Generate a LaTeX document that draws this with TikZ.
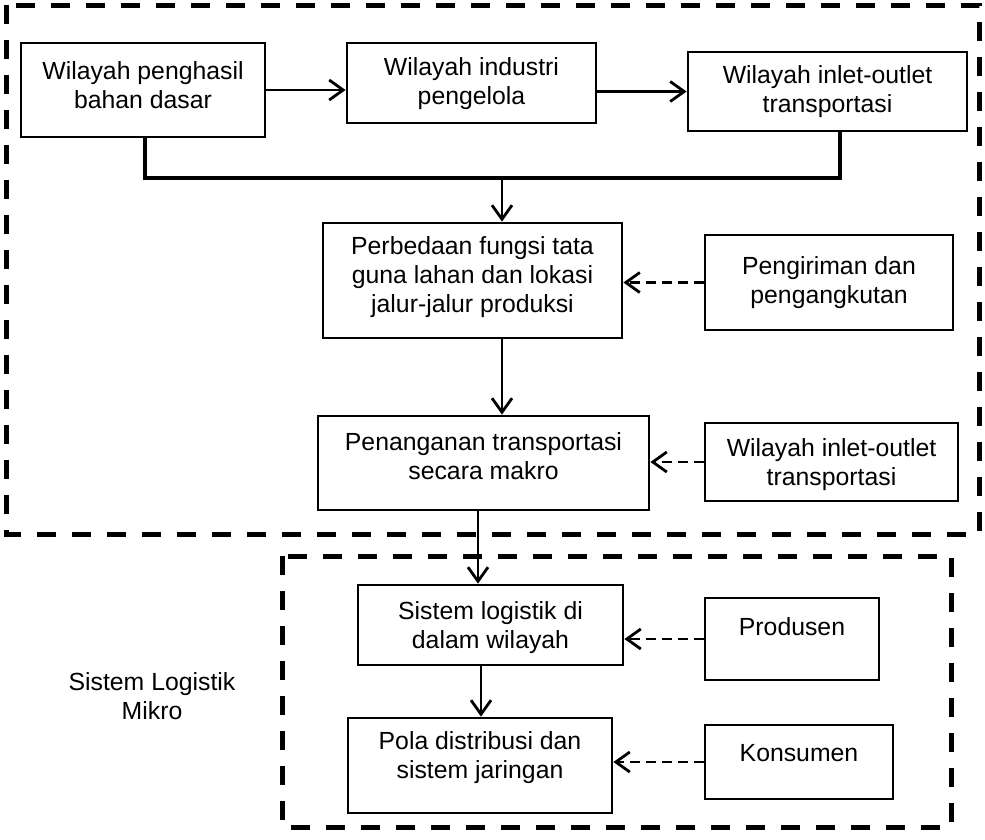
\documentclass[tikz,border=0pt]{standalone}
\usepackage{fontspec}
\setmainfont{Liberation Sans}
\usetikzlibrary{arrows.meta}
\begin{document}
\begin{tikzpicture}[x=1pt,y=-1pt,
  box/.style={draw, line width=2.8pt, inner sep=0pt},
  txt/.style={align=center, inner sep=0pt, font=\fontsize{24.8}{29}\selectfont},
  arr/.style={line width=2.8pt, -{Straight Barb[length=14pt,width=20pt,line width=2.8pt]}},
  darr/.style={line width=2.8pt, dash pattern=on 10pt off 6pt, -{Straight Barb[length=14pt,width=20pt,line width=2.8pt]}},
  bus/.style={line width=4.5pt},
  frame/.style={line width=5pt, dash pattern=on 19pt off 16pt}]
\useasboundingbox (0,0) rectangle (985,839);
% frames
\draw[frame] (6,5) rectangle (979,534);
\draw[frame] (282,556) rectangle (951,827);
% boxes
\node[box, minimum width=244pt, minimum height=94pt] (b1) at (143,90) {};
\node[box, minimum width=249pt, minimum height=80pt] (b2) at (471.5,83) {};
\node[box, minimum width=279pt, minimum height=79pt] (b3) at (827.5,91.5) {};
\node[box, minimum width=299pt, minimum height=115pt] (b4) at (472.5,280.5) {};
\node[box, minimum width=248pt, minimum height=95pt] (b5) at (829,282.5) {};
\node[box, minimum width=331pt, minimum height=94pt] (b6) at (483.5,463) {};
\node[box, minimum width=253pt, minimum height=78pt] (b7) at (831.5,462) {};
\node[box, minimum width=265pt, minimum height=80pt] (b8) at (490.5,625) {};
\node[box, minimum width=174pt, minimum height=82pt] (b9) at (792,639) {};
\node[box, minimum width=264pt, minimum height=95pt] (b10) at (480,765.5) {};
\node[box, minimum width=188pt, minimum height=74pt] (b11) at (799,762) {};
% texts
\node[txt] (t1) at (143,85) {Wilayah penghasil\\bahan dasar};
\node[txt] (t2) at (471.5,84) {Wilayah industri\\pengelola};
\node[txt] (t3) at (827.5,92) {Wilayah inlet-outlet\\transportasi};
\node[txt] (t4) at (472.5,277) {Perbedaan fungsi tata\\guna lahan dan lokasi\\jalur-jalur produksi};
\node[txt] (t5) at (829,283) {Pengiriman dan\\pengangkutan};
\node[txt] (t6) at (483.5,456) {Penanganan transportasi\\secara makro};
\node[txt] (t7) at (831.5,465) {Wilayah inlet-outlet\\transportasi};
\node[txt] (t8) at (490.5,628) {Sistem logistik di\\dalam wilayah};
\node[txt] (t9) at (792,627) {Produsen};
\node[txt] (t10) at (480,758) {Pola distribusi dan\\sistem jaringan};
\node[txt] (t11) at (799,753) {Konsumen};
\node[txt] (lab) at (152,696) {Sistem Logistik\\Mikro};
% connectors
\coordinate (busL) at (145,178);
\coordinate (busR) at (840,178);
\coordinate (j) at (502,178);
\coordinate (k) at (478,0);
\coordinate (m) at (481,0);
\draw[arr] (b1.east) -- (b1.east -| b2.west);
\draw[arr] (b2.east |- b3.west) -- (b3.west);
\draw[bus] (busL |- b1.south) -- (busL) -- (busR) -- (busR |- b3.south);
\draw[arr] (j) -- (j |- b4.north);
\draw[arr] (j |- b4.south) -- (j |- b6.north);
\draw[arr] (k |- b6.south) -- (k |- b8.north);
\draw[arr] (m |- b8.south) -- (m |- b10.north);
\draw[darr] (b5.west) -- (b5.west -| b4.east);
\draw[darr] (b7.west) -- (b7.west -| b6.east);
\draw[darr] (b9.west) -- (b9.west -| b8.east);
\draw[darr] (b11.west) -- (b11.west -| b10.east);
\end{tikzpicture}
\end{document}
